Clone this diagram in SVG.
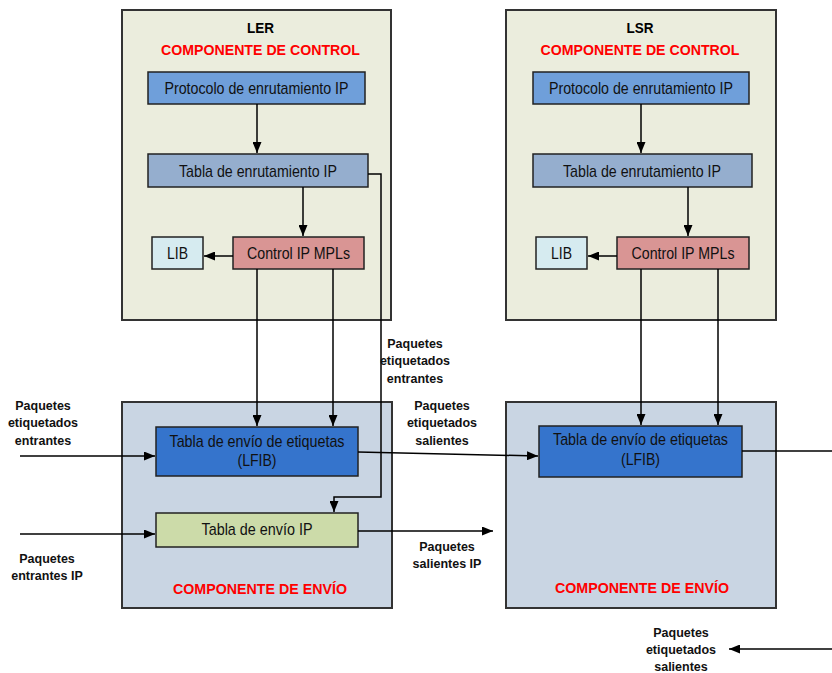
<svg xmlns="http://www.w3.org/2000/svg" width="832" height="673" viewBox="0 0 832 673">
<style>
.outer{stroke:#333;stroke-width:2}
.ctl{fill:#EBEDDD}
.fwd{fill:#C9D5E3}
.box{stroke:#222;stroke-width:1.5}
.t{font-family:"Liberation Sans",Arial,sans-serif;font-size:17px;fill:#111;text-anchor:middle}
.h{font-family:"Liberation Sans",Arial,sans-serif;font-size:15.5px;font-weight:bold;text-anchor:middle}
.red{fill:#FF0000}
.blk{fill:#000}
.lbl{font-family:"Liberation Sans",Arial,sans-serif;font-size:12.5px;font-weight:bold;fill:#111;text-anchor:middle}
.c{fill:none;stroke:#000;stroke-width:1.5}
</style>
<defs>
<marker id="ah" markerUnits="userSpaceOnUse" markerWidth="11" markerHeight="9" refX="11" refY="4.5" orient="auto">
<path d="M0,0 L11,4.5 L0,9 z" fill="#000"/>
</marker>
</defs>
<rect width="832" height="673" fill="#fff"/>

<g id="ler-control">
<rect class="outer ctl" x="122" y="10" width="269" height="310"/>
<text class="h blk" x="260.5" y="33" textLength="27" lengthAdjust="spacingAndGlyphs">LER</text>
<text class="h red" x="260.5" y="55" textLength="199" lengthAdjust="spacingAndGlyphs">COMPONENTE DE CONTROL</text>
</g>
<g id="ler-forwarding">
<rect class="outer fwd" x="122" y="402" width="270" height="206"/>
<text class="h red" x="260" y="594" textLength="174" lengthAdjust="spacingAndGlyphs">COMPONENTE DE ENVÍO</text>
</g>
<g id="lsr-control">
<rect class="outer ctl" x="506" y="10" width="270" height="310"/>
<text class="h blk" x="640" y="33" textLength="27" lengthAdjust="spacingAndGlyphs">LSR</text>
<text class="h red" x="640" y="55" textLength="199" lengthAdjust="spacingAndGlyphs">COMPONENTE DE CONTROL</text>
</g>
<g id="lsr-forwarding">
<rect class="outer fwd" x="506" y="402" width="270" height="206"/>
<text class="h red" x="642" y="593" textLength="174" lengthAdjust="spacingAndGlyphs">COMPONENTE DE ENVÍO</text>
</g>

<g id="ler-protocolo">
<rect class="box" x="148" y="72" width="217" height="32" fill="#6F9FDA"/>
<text class="t" x="256.5" y="94" textLength="184" lengthAdjust="spacingAndGlyphs">Protocolo de enrutamiento IP</text>
</g>
<g id="ler-tabla">
<rect class="box" x="148" y="154" width="220" height="33" fill="#95AECE"/>
<text class="t" x="258" y="177" textLength="158" lengthAdjust="spacingAndGlyphs">Tabla de enrutamiento IP</text>
</g>
<g id="ler-controlip">
<rect class="box" x="233" y="237" width="131" height="32" fill="#D99594"/>
<text class="t" x="298.5" y="259" textLength="103" lengthAdjust="spacingAndGlyphs">Control IP MPLs</text>
</g>
<g id="ler-lib">
<rect class="box" x="152" y="237" width="51" height="32" fill="#D6EBF0"/>
<text class="t" x="177.5" y="259" textLength="21" lengthAdjust="spacingAndGlyphs">LIB</text>
</g>
<g id="ler-lfib">
<rect class="box" x="156" y="427" width="202" height="49" fill="#3574CC"/>
<text class="t" x="257" y="447" textLength="175" lengthAdjust="spacingAndGlyphs">Tabla de envío de etiquetas</text>
<text class="t" x="257" y="466" textLength="39" lengthAdjust="spacingAndGlyphs">(LFIB)</text>
</g>
<g id="ler-ipfwd">
<rect class="box" x="156" y="513" width="202" height="34" fill="#CCDBA9"/>
<text class="t" x="257" y="535" textLength="111" lengthAdjust="spacingAndGlyphs">Tabla de envío IP</text>
</g>

<g id="lsr-protocolo">
<rect class="box" x="533" y="72" width="216" height="32" fill="#6F9FDA"/>
<text class="t" x="641" y="94" textLength="184" lengthAdjust="spacingAndGlyphs">Protocolo de enrutamiento IP</text>
</g>
<g id="lsr-tabla">
<rect class="box" x="533" y="154" width="219" height="33" fill="#95AECE"/>
<text class="t" x="642" y="177" textLength="158" lengthAdjust="spacingAndGlyphs">Tabla de enrutamiento IP</text>
</g>
<g id="lsr-controlip">
<rect class="box" x="617" y="237" width="132" height="32" fill="#D99594"/>
<text class="t" x="683" y="259" textLength="103" lengthAdjust="spacingAndGlyphs">Control IP MPLs</text>
</g>
<g id="lsr-lib">
<rect class="box" x="536" y="237" width="51" height="32" fill="#D6EBF0"/>
<text class="t" x="561.5" y="259" textLength="21" lengthAdjust="spacingAndGlyphs">LIB</text>
</g>
<g id="lsr-lfib">
<rect class="box" x="539" y="426" width="203" height="51" fill="#3574CC"/>
<text class="t" x="640.5" y="445" textLength="175" lengthAdjust="spacingAndGlyphs">Tabla de envío de etiquetas</text>
<text class="t" x="640.5" y="465" textLength="39" lengthAdjust="spacingAndGlyphs">(LFIB)</text>
</g>

<g id="connectors">
<line class="c" x1="257" y1="104" x2="257" y2="153" marker-end="url(#ah)"/>
<line class="c" x1="303" y1="187" x2="303" y2="236" marker-end="url(#ah)"/>
<line class="c" x1="233" y1="256" x2="204" y2="256" marker-end="url(#ah)"/>
<line class="c" x1="257" y1="269" x2="257" y2="426" marker-end="url(#ah)"/>
<line class="c" x1="333" y1="269" x2="333" y2="426" marker-end="url(#ah)"/>
<path class="c" d="M368,174 H381 V497 H334 V512" marker-end="url(#ah)"/>
<line class="c" x1="20" y1="456" x2="155" y2="456" marker-end="url(#ah)"/>
<line class="c" x1="20" y1="534" x2="155" y2="534" marker-end="url(#ah)"/>
<line class="c" x1="358" y1="452" x2="538" y2="456" marker-end="url(#ah)"/>
<line class="c" x1="358" y1="531" x2="493" y2="531" marker-end="url(#ah)"/>

<line class="c" x1="641" y1="104" x2="641" y2="153" marker-end="url(#ah)"/>
<line class="c" x1="688" y1="187" x2="688" y2="236" marker-end="url(#ah)"/>
<line class="c" x1="617" y1="256" x2="588" y2="256" marker-end="url(#ah)"/>
<line class="c" x1="641" y1="269" x2="641" y2="425" marker-end="url(#ah)"/>
<line class="c" x1="718" y1="269" x2="718" y2="425" marker-end="url(#ah)"/>
<line class="c" x1="742" y1="451" x2="832" y2="451"/>
<line class="c" x1="832" y1="649" x2="729" y2="649" marker-end="url(#ah)"/>
</g>

<g id="labels">
<text class="lbl" x="43" y="410">Paquetes</text>
<text class="lbl" x="43" y="427">etiquetados</text>
<text class="lbl" x="43" y="445">entrantes</text>
<text class="lbl" x="47" y="563">Paquetes</text>
<text class="lbl" x="47" y="580">entrantes IP</text>
<text class="lbl" x="415" y="348">Paquetes</text>
<text class="lbl" x="415" y="365">etiquetados</text>
<text class="lbl" x="415" y="383">entrantes</text>
<text class="lbl" x="442" y="410">Paquetes</text>
<text class="lbl" x="442" y="427">etiquetados</text>
<text class="lbl" x="442" y="445">salientes</text>
<text class="lbl" x="447" y="551">Paquetes</text>
<text class="lbl" x="447" y="568">salientes IP</text>
<text class="lbl" x="681" y="637">Paquetes</text>
<text class="lbl" x="681" y="654">etiquetados</text>
<text class="lbl" x="681" y="671">salientes</text>
</g>
</svg>
